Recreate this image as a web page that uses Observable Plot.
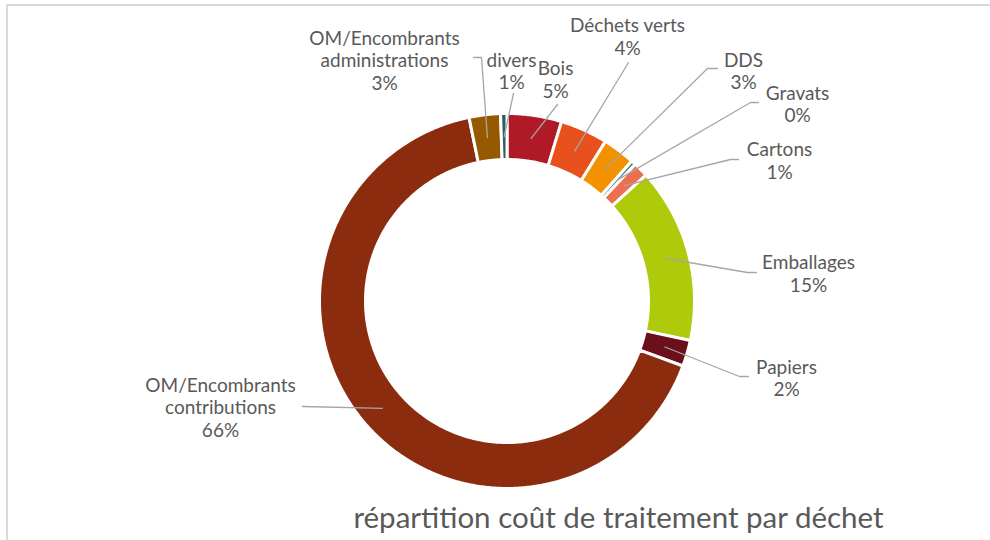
<!DOCTYPE html>
<html><head><meta charset="utf-8">
<script src="https://cdn.jsdelivr.net/npm/d3@7"></script>
<script src="https://cdn.jsdelivr.net/npm/@observablehq/plot@0.6"></script>
<style>html,body{margin:0;padding:0;background:#fff;}</style>
</head><body><div id="chart"></div>
<script>
// ---- data ----
const categories = ["Bois","Déchets verts","DDS","Gravats","Cartons","Emballages","Papiers","OM/Encombrants contributions","OM/Encombrants administrations","divers"];
const values = [4.7,4.1,2.8,0.4,1.3,15.1,2.25,66.15,2.7,0.55];
const colors = ["#B01A27","#E8501E","#F39200","#3B8686","#EE6E50","#AFCA0B","#6B0F1A","#8B2C0F","#955A00","#2E5E5E"];
const labelNames = ["Bois","Déchets verts","DDS","Gravats","Cartons","Emballages","Papiers","OM/Encombrants\ncontributions","OM/Encombrants\nadministrations","divers"];
const title = "répartition coût de traitement par déchet";

// ---- layout ----
const W = 990, H = 540, cx = 506.5, cy = 300.5, rOut = 187.5, rIn = 141.5, gap = 3;
const labelPos = [[555,79],[627,36],[743,70.5],[797,103.5],[779,160],[808,273],[786,377.5],[220,406.5],[384,59.5],[511,70.5]];
const leaderElbows = [[[557,104]],[[628,62]],[[717,68],[707,68]],[[758,102],[750,102]],[[738,159],[730,159]],[[756,272],[747,272]],[[748,376],[739,376]],[[302,406]],[[473,57],[481,57]],[[513,93]]];

const total = d3.sum(values);
const arcs = d3.pie().sort(null).value(d => d)(values);
const rMid = (rOut + rIn) / 2;

const polys = [];
arcs.forEach((a, i) => {
  const n = Math.max(2, Math.ceil((a.endAngle - a.startAngle) / (Math.PI / 360)));
  const pts = [];
  for (let k = 0; k <= n; k++) { const t = a.startAngle + (a.endAngle - a.startAngle) * k / n; pts.push([cx + rOut * Math.sin(t), cy - rOut * Math.cos(t)]); }
  for (let k = n; k >= 0; k--) { const t = a.startAngle + (a.endAngle - a.startAngle) * k / n; pts.push([cx + rIn * Math.sin(t), cy - rIn * Math.cos(t)]); }
  pts.push(pts[0]);
  pts.forEach(p => polys.push({name: categories[i], color: colors[i], x: p[0], y: p[1]}));
});

const leaders = [];
arcs.forEach((a, i) => {
  const m = (a.startAngle + a.endAngle) / 2;
  const pts = [...leaderElbows[i], [cx + rMid * Math.sin(m), cy - rMid * Math.cos(m)]];
  pts.forEach(p => leaders.push({id: i, x: p[0], y: p[1]}));
});

const labels = categories.map((c, i) => ({
  x: labelPos[i][0], y: labelPos[i][1],
  text: labelNames[i] + "\n" + Math.round(values[i] / total * 100) + "%"
}));

const chart = Plot.plot({
  width: W, height: H, margin: 0,
  x: {domain: [0, W], range: [0, W], axis: null},
  y: {domain: [0, H], range: [0, H], axis: null},
  style: {background: "#fff", overflow: "visible"},
  marks: [
    Plot.ruleY([4.5], {x1: 6, x2: W, stroke: "#D9D9D9", strokeWidth: 2}),
    Plot.ruleX([6.5], {y1: 4, y2: H, stroke: "#D9D9D9", strokeWidth: 2}),
    Plot.line(polys, {x: "x", y: "y", z: "name", fill: "color", stroke: "white", strokeWidth: gap, curve: "linear"}),
    Plot.line(leaders, {x: "x", y: "y", z: "id", stroke: "#A6A6A6", strokeWidth: 1.3}),
    Plot.text(labels, {x: "x", y: "y", text: "text", textAnchor: "middle", lineAnchor: "middle", lineHeight: 1.18, fontSize: 19, fontFamily: "Lato", fill: "#595959"}),
    Plot.text([{x: 618, y: 518, t: title}], {x: "x", y: "y", text: "t", textAnchor: "middle", lineAnchor: "middle", fontSize: 29.5, fontFamily: "Lato", fill: "#595959"})
  ]
});
document.getElementById("chart").appendChild(chart);
</script>
</body></html>
